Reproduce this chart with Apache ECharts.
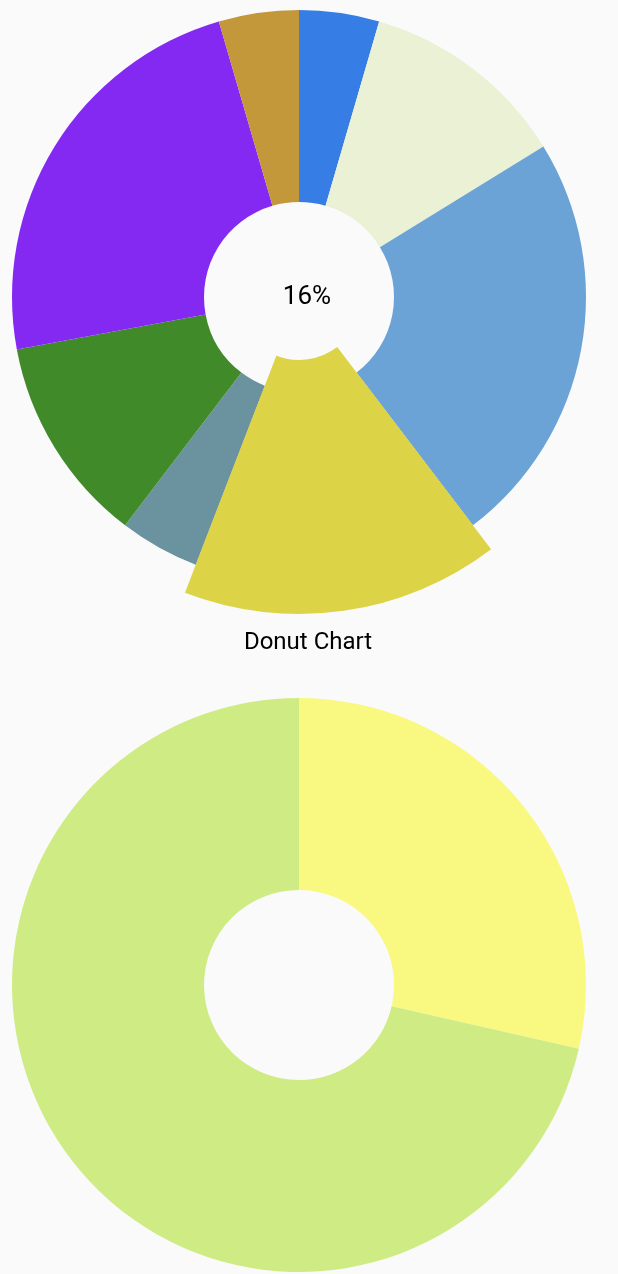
<!DOCTYPE html>
<html><head><meta charset="utf-8">
<script src="https://cdn.jsdelivr.net/npm/echarts@6/dist/echarts.min.js"></script>
<style>html,body{margin:0;padding:0;background:#fafafa;}#c{width:618px;height:1274px;}</style>
</head><body><div id="c"></div>
<script>
var topNames = ['A','B','C','D','E','F','G','H'];
var topValues = [5, 13, 26, 18, 5, 13, 26, 5];
var topColors = ['#377de6','#ebf1d5','#6ba3d6','#ddd347','#6a929f','#418a2a','#8429f2','#c3983b'];
var selectedIndex = 3;
var bottomNames = ['A','B'];
var bottomValues = [2, 5];
var bottomColors = ['#f9f982','#cfeb84'];
var titleText = 'Donut Chart';

var total = topValues.reduce(function(a,b){return a+b;},0);
var pctText = Math.round(topValues[selectedIndex]/total*100) + '%';

function mk(names, values, colors, keep){
  return names.map(function(n,i){
    return {name:n, value:values[i], itemStyle:{color: (keep===undefined||keep===i)?colors[i]:'rgba(0,0,0,0)'}};
  });
}
var common = {type:'pie', startAngle:90, clockwise:true, label:{show:false}, labelLine:{show:false}, silent:true, animation:false, itemStyle:{borderWidth:0}};
var chart = echarts.init(document.getElementById('c'), null, {renderer:'canvas'});
chart.setOption({
  backgroundColor:'#fafafa',
  animation:false,
  graphic:[
    {type:'text', x:307, y:297, z:10, style:{text:pctText, align:'center', verticalAlign:'middle', fontFamily:'Roboto', fontSize:26, fill:'#000'}},
    {type:'text', x:308, y:643, z:10, style:{text:titleText, align:'center', verticalAlign:'middle', fontFamily:'Roboto', fontSize:24, fill:'#000'}}
  ],
  series:[
    Object.assign({}, common, {center:[299,297], radius:[95,287], data: mk(topNames, topValues, topColors)}),
    Object.assign({}, common, {center:[299,297], radius:[63,317], data: mk(topNames, topValues, topColors, selectedIndex), z:3}),
    Object.assign({}, common, {center:[299,985], radius:[95,287], data: mk(bottomNames, bottomValues, bottomColors)})
  ]
});
</script></body></html>
